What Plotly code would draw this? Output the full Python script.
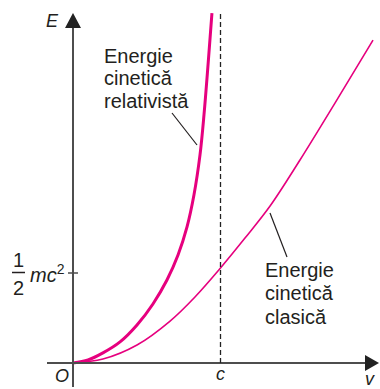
import plotly.graph_objects as go

# ---- data (v in units of c, E in units of m*c^2) ----
v_clasic = [0.0, 0.203, 0.434, 0.658, 0.827, 1.0, 1.166, 1.336, 1.539, 1.776, 2.034]
E_clasic = [0.0, 0.022, 0.100, 0.233, 0.367, 0.528, 0.694, 0.872, 1.128, 1.444, 1.794]

v_rel = [0.0, 0.102, 0.203, 0.319, 0.434, 0.542, 0.637, 0.712, 0.773, 0.820, 0.861, 0.888, 0.942]
E_rel = [0.0, 0.017, 0.056, 0.117, 0.211, 0.328, 0.461, 0.600, 0.756, 0.933, 1.156, 1.378, 1.944]

v_c = 1.0          # c
E_half = 0.5       # 1/2 mc^2

label_rel = ["Energie", "cinetică", "relativistă"]
label_cls = ["Energie", "cinetică", "clasică"]

# ---- layout helpers (pixel -> axis units) ----
W, H = 380, 389
X0, Y0, SX, SY = 73, 363, 147.5, 180.0
def px(p):
    return (p - X0) / SX
def py(p):
    return (Y0 - p) / SY

MAG = "#e6007e"
AX = "#4d4d4d"
TXT = "#231f20"
FONT = "Liberation Sans, Arial, sans-serif"

fig = go.Figure()
fig.add_trace(go.Scatter(x=v_clasic, y=E_clasic, mode="lines",
                         line=dict(color=MAG, width=1.6, shape="spline", smoothing=1.0),
                         hoverinfo="skip"))
fig.add_trace(go.Scatter(x=v_rel, y=E_rel, mode="lines",
                         line=dict(color=MAG, width=3, shape="spline", smoothing=1.0),
                         hoverinfo="skip"))

shapes = []
# axes
shapes.append(dict(type="line", xref="x", yref="y", x0=0, x1=0, y0=py(387), y1=py(27),
                   line=dict(color=AX, width=2)))
shapes.append(dict(type="line", xref="x", yref="y", x0=px(47), x1=px(366), y0=0, y1=0,
                   line=dict(color=AX, width=2)))
# arrowheads
shapes.append(dict(type="path", xref="x", yref="y",
                   path=f"M {px(73)},{py(13)} L {px(65)},{py(28)} L {px(81)},{py(28)} Z",
                   fillcolor="#222", line=dict(width=0)))
shapes.append(dict(type="path", xref="x", yref="y",
                   path=f"M {px(379)},{py(363)} L {px(365)},{py(355)} L {px(365)},{py(371)} Z",
                   fillcolor="#222", line=dict(width=0)))
# dashed c line
shapes.append(dict(type="line", xref="x", yref="y", x0=v_c, x1=v_c, y0=0, y1=py(13),
                   line=dict(color="#222", width=1.3, dash="5px,3px")))
# tick at 1/2 mc^2
shapes.append(dict(type="line", xref="x", yref="y", x0=px(68), x1=px(78), y0=E_half, y1=E_half,
                   line=dict(color=AX, width=1.5)))
# fraction bar
shapes.append(dict(type="line", xref="x", yref="y", x0=px(12), x1=px(25), y0=py(272.5), y1=py(272.5),
                   line=dict(color=TXT, width=1.5)))
# leader lines
shapes.append(dict(type="line", xref="x", yref="y", x0=px(172), x1=px(197), y0=py(113), y1=py(145),
                   line=dict(color=TXT, width=1.2)))
shapes.append(dict(type="line", xref="x", yref="y", x0=px(270), x1=px(287), y0=py(213), y1=py(257),
                   line=dict(color=TXT, width=1.2)))

ann = []
def txt(t, x, y, size, xanchor="center"):
    ann.append(dict(text=t, x=px(x), y=py(y), xref="x", yref="y", showarrow=False,
                    xanchor=xanchor, yanchor="middle", borderpad=0,
                    font=dict(family=FONT, size=size, color=TXT)))

txt("<i>E</i>", 52.5, 20.5, 18)
txt("<i>O</i>", 61.5, 375.5, 18)
txt("<i>c</i>", 220, 373.5, 18)
txt("<i>v</i>", 370, 378.5, 18)
txt("1", 18.5, 260, 20)
txt("2", 18.5, 288, 20)
txt("<i>mc</i><sup>2</sup>", 29, 273, 20, xanchor="left")

for t, yb in zip(label_rel, [63, 85, 108]):
    txt(t, 103, yb - 7, 20, xanchor="left")
for t, yb in zip(label_cls, [277, 300, 324]):
    txt(t, 264, yb - 7, 20, xanchor="left")

fig.update_layout(
    width=W, height=H, margin=dict(l=0, r=0, t=0, b=0),
    paper_bgcolor="white", plot_bgcolor="white", showlegend=False,
    xaxis=dict(visible=False, range=[px(0), px(W)], fixedrange=True),
    yaxis=dict(visible=False, range=[py(H), py(0)], fixedrange=True),
    shapes=shapes, annotations=ann,
)

fig.write_html("out.html", config={"displayModeBar": False},
               post_script="document.body.style.margin='0px';document.body.style.overflow='hidden';")
